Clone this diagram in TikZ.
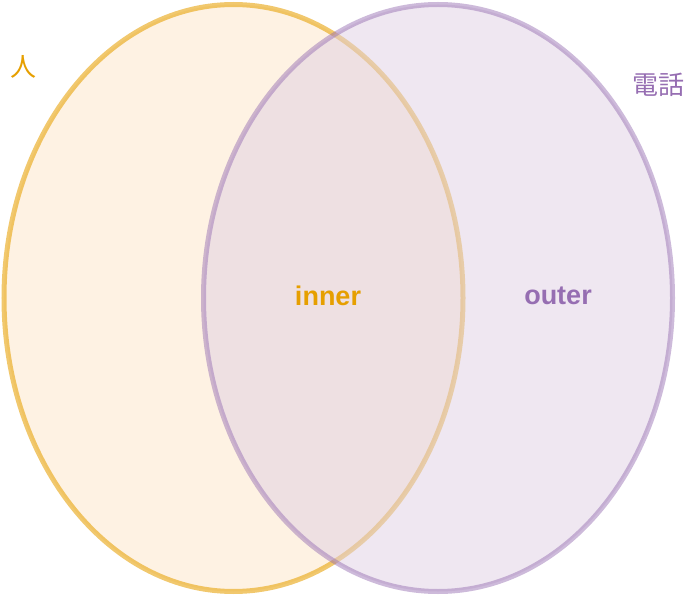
\documentclass[tikz,border=0pt]{standalone}
\usepackage{fontspec}
\setmainfont{Liberation Sans}
\newfontfamily\cjkfont{Noto Sans CJK JP}
\usepackage{tikz}
\usetikzlibrary{positioning}
\definecolor{renorange}{RGB}{230,159,0}
\definecolor{renfill}{RGB}{253,229,199}
\definecolor{denpurple}{RGB}{150,110,178}
\definecolor{denfill}{RGB}{223,208,227}

\begin{document}
\begin{tikzpicture}[x = 1pt, y = -1pt]
\useasboundingbox (0,0) rectangle (699,596);
\draw[fill=renfill, draw=renorange, fill opacity = .5, draw opacity = .57, line width = 5pt] (233.5,298) ellipse (229.5pt and 293.5pt);
\draw[fill=denfill, draw=denpurple, fill opacity = .51, draw opacity = .48, line width = 5pt] (438,298) ellipse (234.5pt and 293.5pt);
\node[text=renorange, font=\cjkfont\fontsize{26}{26}\selectfont] (ren) at (23,67) {人};
\node[text=denpurple, font=\cjkfont\fontsize{26}{26}\selectfont] (denwa) at (658,85) {電話};
\node[text=renorange, font=\bfseries\fontsize{27}{27}\selectfont] (inner) at (328,296) {inner};
\node[text=denpurple, font=\bfseries\fontsize{27}{27}\selectfont] (outer) at (558,296) {outer};
\end{tikzpicture}
\end{document}
